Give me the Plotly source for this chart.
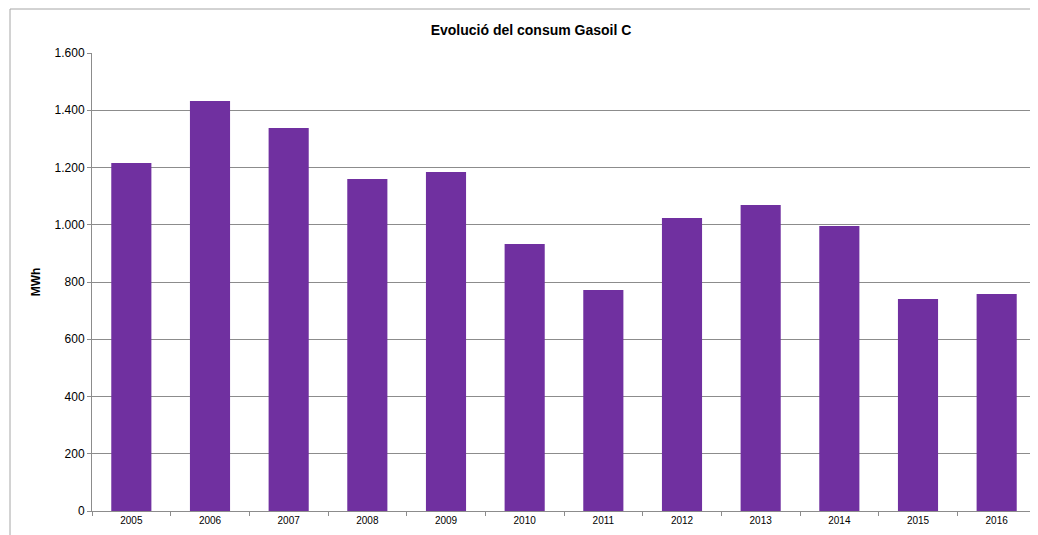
import plotly.graph_objects as go

years = ["2005", "2006", "2007", "2008", "2009", "2010", "2011", "2012", "2013", "2014", "2015", "2016"]
consum_mwh = [1216, 1432, 1338, 1160, 1184, 933, 772, 1024, 1069, 996, 741, 758]
y_ticks = [0, 200, 400, 600, 800, 1000, 1200, 1400, 1600]

# page body has an 8px margin, so figure is placed at (8, 8)
OFF = 8
W, H = 1038 - OFF, 535 - OFF
ml, mr, mt, mb = 92 - OFF, 2, 53 - OFF, 24
pw, ph = W - ml - mr, H - mt - mb

fig = go.Figure(go.Bar(x=years, y=consum_mwh, marker_color="#7030A0", marker_line_width=0))

frame_x0 = (10 - OFF - ml) / pw
frame_y1 = (H - mb - (9 - OFF)) / ph

fig.update_layout(
    width=W, height=H,
    margin=dict(l=ml, r=mr, t=mt, b=mb),
    paper_bgcolor="white", plot_bgcolor="white",
    separators=",.",
    bargap=0.49,
    showlegend=False,
    title=dict(text="<b>Evolució del consum Gasoil C</b>", x=(531 - OFF - ml) / pw, xref="paper",
               xanchor="center", y=1 - (30 - OFF) / H, yanchor="middle",
               font=dict(family="Liberation Sans, Arial", size=14, color="black")),
    font=dict(family="Liberation Sans, Arial", color="black"),
    xaxis=dict(type="category", showline=True, linecolor="#8c8c8c", linewidth=1,
               ticks="outside", tickson="boundaries", ticklen=4, tickcolor="#8c8c8c",
               tickfont=dict(size=10, family="Liberation Sans, Arial"), showgrid=False),
    yaxis=dict(range=[0, 1600], tickvals=y_ticks, tickformat=",.0f",
               showline=True, linecolor="#8c8c8c", linewidth=1,
               ticks="outside", ticklen=4, tickcolor="#8c8c8c",
               gridcolor="#8c8c8c", gridwidth=1, zeroline=False,
               tickfont=dict(size=12, family="Liberation Sans, Arial"),
               title=dict(text="<b>MWh</b>", font=dict(size=12, family="Liberation Sans, Arial"), standoff=11)),
    shapes=[
        dict(type="line", xref="paper", yref="paper", x0=frame_x0, x1=1.2, y0=frame_y1, y1=frame_y1,
             line=dict(color="#a6a6a6", width=1)),
        dict(type="line", xref="paper", yref="paper", x0=frame_x0, x1=frame_x0, y0=-0.2, y1=frame_y1,
             line=dict(color="#a6a6a6", width=1)),
    ],
)

fig.write_html("out.html")
